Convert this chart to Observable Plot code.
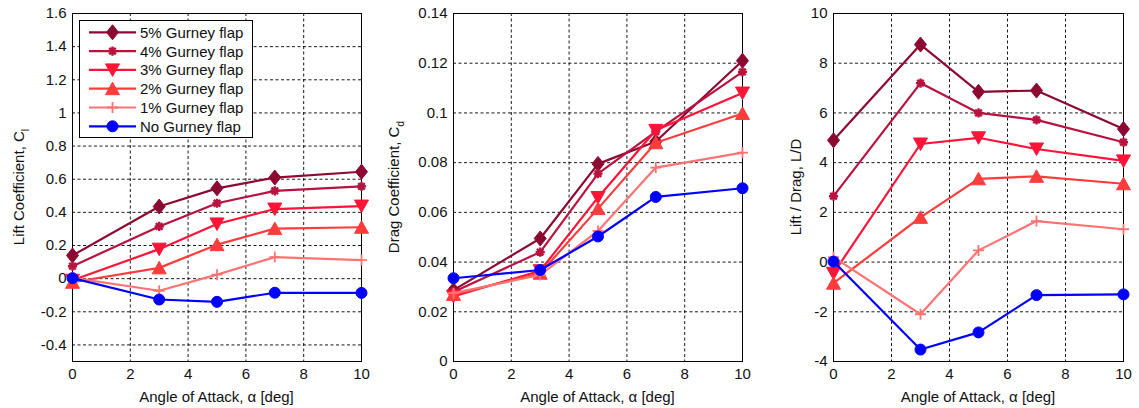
<!DOCTYPE html>
<html><head><meta charset="utf-8">
<script src="https://cdn.jsdelivr.net/npm/d3@7"></script>
<script src="https://cdn.jsdelivr.net/npm/@observablehq/plot@0.6"></script>
<style>
html,body{margin:0;padding:0;background:#fff;}
#wrap{position:relative;width:1139px;height:408px;overflow:hidden;font-family:"Liberation Sans",Arial,sans-serif;}
#wrap svg{position:absolute;top:0;}
</style></head><body><div id="wrap"></div>
<script>
// ---------- data ----------
const alpha = [0, 3, 5, 7, 10];
const seriesNames = ["5% Gurney flap", "4% Gurney flap", "3% Gurney flap", "2% Gurney flap", "1% Gurney flap", "No Gurney flap"];
const seriesColors = ["#8C0A31", "#B8123F", "#FF1438", "#FF3C3C", "#FF7373", "#0000FF"];

const liftValues = [
  [0.14, 0.435, 0.545, 0.61, 0.645],
  [0.075, 0.315, 0.455, 0.53, 0.557],
  [-0.01, 0.178, 0.33, 0.42, 0.438],
  [-0.022, 0.065, 0.205, 0.302, 0.31],
  [0.005, -0.073, 0.024, 0.13, 0.112],
  [0.003, -0.126, -0.14, -0.085, -0.086]
];
const dragValues = [
  [0.0287, 0.0495, 0.0795, 0.0885, 0.121],
  [0.028, 0.044, 0.0756, 0.0925, 0.1165],
  [0.0262, 0.0365, 0.066, 0.093, 0.108],
  [0.027, 0.0355, 0.0615, 0.088, 0.0998],
  [0.0275, 0.0348, 0.0525, 0.078, 0.084],
  [0.0335, 0.0368, 0.0503, 0.0662, 0.0697]
];
const ldValues = [
  [4.9, 8.75, 6.85, 6.9, 5.35],
  [2.65, 7.2, 6.0, 5.72, 4.82],
  [-0.45, 4.75, 5.0, 4.55, 4.07],
  [-0.85, 1.8, 3.35, 3.45, 3.15],
  [0.2, -2.1, 0.47, 1.65, 1.32],
  [0.02, -3.52, -2.83, -1.33, -1.3]
];

const xTicks = [0, 2, 4, 6, 8, 10];
const liftTicks = [-0.4, -0.2, 0, 0.2, 0.4, 0.6, 0.8, 1, 1.2, 1.4, 1.6];
const dragTicks = [0, 0.02, 0.04, 0.06, 0.08, 0.1, 0.12, 0.14];
const ldTicks = [-4, -2, 0, 2, 4, 6, 8, 10];
const xLabel = "Angle of Attack, \u03b1 [deg]";

// ---------- marker shapes ----------
const symDiamond = {draw(c){ c.moveTo(0,-7.5); c.lineTo(6,0); c.lineTo(0,7.5); c.lineTo(-6,0); c.closePath(); }};
const symAsterisk = {draw(c){ const a=4.6, b=3.3;
  c.moveTo(-a,0); c.lineTo(a,0); c.moveTo(0,-a); c.lineTo(0,a);
  c.moveTo(-b,-b); c.lineTo(b,b); c.moveTo(-b,b); c.lineTo(b,-b); }};
const symTriDown = {draw(c){ c.moveTo(-7,-6); c.lineTo(7,-6); c.lineTo(0,6.5); c.closePath(); }};
const symTriUp = {draw(c){ c.moveTo(0,-6.5); c.lineTo(7,6); c.lineTo(-7,6); c.closePath(); }};
const symPlus = {draw(c){ c.moveTo(-5.5,0); c.lineTo(5.5,0); c.moveTo(0,-5.5); c.lineTo(0,5.5); }};
const symCircle = {draw(c){ c.moveTo(5.5,0); c.arc(0,0,5.5,0,2*Math.PI); c.closePath(); }};
const symbols = [symDiamond, symAsterisk, symTriDown, symTriUp, symPlus, symCircle];
const filled = [true, false, true, true, false, true];
const markerStroke = [1, 2.4, 1, 1, 1.8, 1];

const fmt = d => String(+(+d).toFixed(3));
const FONT = "Liberation Sans, Arial, sans-serif";

const panels = [
  {left: 0, width: 380, ml: 72, mr: 19, domain: [-0.5, 1.6], ticks: liftTicks, values: liftValues,
   label: "Lift Coefficient, C", sub: "l", labelX: 24},
  {left: 380, width: 380, ml: 73, mr: 18, domain: [0, 0.14], ticks: dragTicks, values: dragValues,
   label: "Drag Coefficient, C", sub: "d", labelX: 19},
  {left: 760, width: 379, ml: 73, mr: 16, domain: [-4, 10], ticks: ldTicks, values: ldValues,
   label: "Lift / Drag, L/D", sub: null, labelX: 41}
];
const H = 408, MT = 13, MB = 47;
const wrap = document.getElementById("wrap");

panels.forEach((p, pi) => {
  const marks = [
    Plot.gridX([2, 4, 6, 8], {stroke: "#000", strokeOpacity: 1, strokeWidth: 0.9, strokeDasharray: "3,2.5"}),
    Plot.gridY(p.ticks, {stroke: "#000", strokeOpacity: 1, strokeWidth: 0.9, strokeDasharray: "3,2.5"}),
    Plot.frame({stroke: "#000", strokeWidth: 1}),
    Plot.axisX(xTicks, {tickSize: 0, tickPadding: 7, label: null, tickFormat: fmt}),
    Plot.axisY(p.ticks, {tickSize: 0, tickPadding: 6, label: null, tickFormat: fmt})
  ];
  p.values.forEach((vals, si) => {
    const rows = alpha.map((a, k) => ({alpha: a, v: vals[k], series: seriesNames[si]}));
    marks.push(Plot.line(rows, {x: "alpha", y: "v", stroke: seriesColors[si], strokeWidth: 2.2}));
    marks.push(Plot.dot(rows, {x: "alpha", y: "v", r: 6, symbol: symbols[si],
      fill: filled[si] ? seriesColors[si] : "none", stroke: seriesColors[si], strokeWidth: markerStroke[si]}));
  });
  const svg = Plot.plot({
    width: p.width, height: H,
    marginLeft: p.ml, marginRight: p.mr, marginTop: MT, marginBottom: MB,
    x: {domain: [0, 10]},
    y: {domain: p.domain},
    style: {fontFamily: FONT, fontSize: "15px", color: "#111", background: "transparent", overflow: "visible"},
    marks
  });
  svg.style.left = p.left + "px";
  wrap.appendChild(svg);
  const s = d3.select(svg);
  // y label
  const yl = s.append("text")
    .attr("transform", `translate(${p.labelX},${(MT + H - MB) / 2}) rotate(-90)`)
    .attr("text-anchor", "middle").attr("font-size", 15).attr("fill", "#111");
  yl.append("tspan").text(p.label);
  if (p.sub) yl.append("tspan").attr("dy", 5).attr("font-size", 10.5).text(p.sub);
  // x label
  s.append("text").attr("x", (p.ml + p.width - p.mr) / 2).attr("y", 402)
    .attr("text-anchor", "middle").attr("font-size", 15).attr("fill", "#111").text(xLabel);

  // legend in first panel
  if (pi === 0) {
    const g = s.append("g").attr("text-anchor", "start");
    g.append("rect").attr("x", 79.5).attr("y", 20.5).attr("width", 173).attr("height", 117)
      .attr("fill", "#fff").attr("stroke", "#000").attr("stroke-width", 1);
    seriesNames.forEach((name, si) => {
      const y = 32.3 + si * 18.8;
      g.append("line").attr("x1", 89).attr("x2", 136).attr("y1", y).attr("y2", y)
        .attr("stroke", seriesColors[si]).attr("stroke-width", 2.2);
      g.append("path").attr("d", d3.symbol(symbols[si])())
        .attr("transform", `translate(112.5,${y})`)
        .attr("fill", filled[si] ? seriesColors[si] : "none")
        .attr("stroke", seriesColors[si]).attr("stroke-width", markerStroke[si]);
      g.append("text").attr("x", 140).attr("y", y).attr("dy", "0.36em")
        .attr("text-anchor", "start")
        .attr("font-size", 15).attr("fill", "#111").text(name);
    });
  }
});
</script>
</body></html>
